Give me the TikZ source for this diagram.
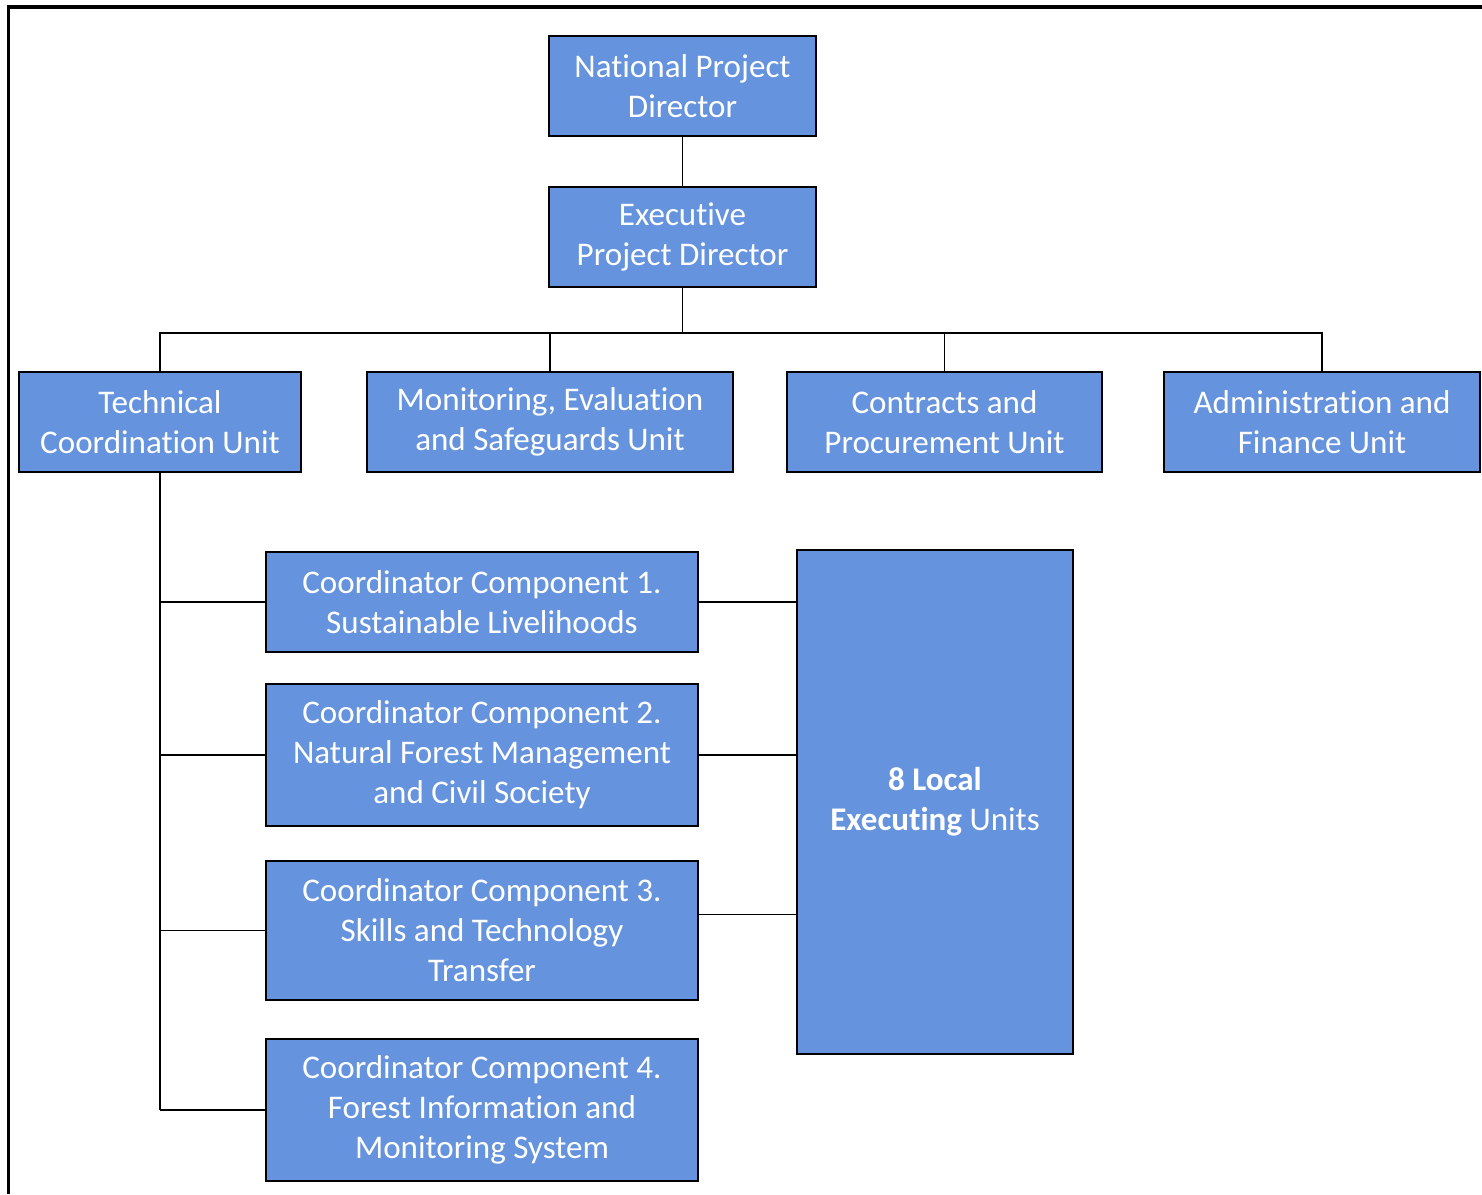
\documentclass[tikz,border=0pt]{standalone}
\usepackage{fontspec}
\setmainfont{Carlito}[Ligatures=NoCommon]
\usetikzlibrary{calc}

\definecolor{unitblue}{RGB}{102,147,221}

\tikzset{
  unitbox/.style={draw=black, line width=0.6pt, fill=unitblue, text=white,
    align=center, inner sep=0pt, font=\fontsize{9.4}{11.4}\selectfont},
  link/.style={draw=black, line width=0.55pt}
}

\begin{document}
\begin{tikzpicture}[x=0.01cm, y=-0.01cm]
  \useasboundingbox (0,0) rectangle (1482,1194);

  % frame
  \draw[line width=0.9pt] (8.5,1194) -- (8.5,7) -- (1482,7);

  % top of the chart
  \node[unitbox, minimum width=2.67cm, minimum height=1cm] (npd) at (682.5,86) {National Project\\Director};
  \node[unitbox, minimum width=2.67cm, minimum height=1cm] (epd) at (682.5,237) {Executive\\Project Director};

  % units
  \node[unitbox, minimum width=2.82cm, minimum height=1cm] (tcu) at (160,422) {Technical\\Coordination Unit};
  \node[unitbox, minimum width=3.66cm, minimum height=1cm] (mesu) at (550,422) {Monitoring, Evaluation\\and Safeguards Unit};
  \node[unitbox, minimum width=3.15cm, minimum height=1cm] (cpu) at (944.5,422) {Contracts and\\Procurement Unit};
  \node[unitbox, minimum width=3.16cm, minimum height=1cm] (afu) at (1322,422) {Administration and\\Finance Unit};

  % components
  \node[unitbox, minimum width=4.32cm, minimum height=1cm] (cc1) at (482,602) {Coordinator Component 1.\\Sustainable Livelihoods};
  \node[unitbox, minimum width=4.32cm, minimum height=1.42cm] (cc2) at (482,755) {Coordinator Component 2.\\Natural Forest Management\\and Civil Society};
  \node[unitbox, minimum width=4.32cm, minimum height=1.39cm] (cc3) at (482,930.5) {Coordinator Component 3.\\Skills and Technology\\Transfer};
  \node[unitbox, minimum width=4.32cm, minimum height=1.42cm] (cc4) at (482,1110) {Coordinator Component 4.\\Forest Information and\\Monitoring System};

  \node[unitbox, minimum width=2.76cm, minimum height=5.04cm] (leu) at (935,802) {\textbf{8 Local}\\\textbf{Executing} Units};

  % connectors
  \coordinate (bus) at (0,333);
  \draw[link] (npd) -- (epd);
  \draw[link] (epd.south) -- (epd.south |- bus);
  \draw[link] (tcu.north) -- (tcu.north |- bus) -- (afu.north |- bus) -- (afu.north);
  \draw[link] (mesu.north) -- (mesu.north |- bus);
  \draw[link] (cpu.north) -- (cpu.north |- bus);

  \draw[link] (tcu.south) -- (tcu.south |- cc4.west);
  \foreach \cc in {cc1,cc2,cc3,cc4} {
    \draw[link] (tcu.south |- \cc.west) -- (\cc.west);
  }

  \coordinate (c3) at ([yshift=0.16cm]cc3.east);
  \draw[link] (cc1.east) -- (cc1.east -| leu.west);
  \draw[link] (cc2.east) -- (cc2.east -| leu.west);
  \draw[link] (c3) -- (c3 -| leu.west);
\end{tikzpicture}
\end{document}
